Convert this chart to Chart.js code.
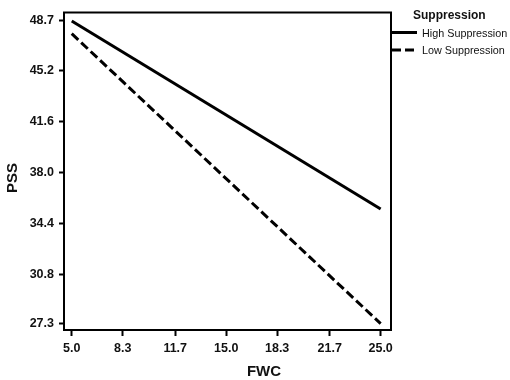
<!DOCTYPE html>
<html>
<head>
<meta charset="utf-8">
<script src="https://cdn.jsdelivr.net/npm/chart.js@4.4.1/dist/chart.umd.min.js"></script>
<style>
  html, body { margin: 0; padding: 0; background: #fff; }
</style>
</head>
<body>
<canvas id="myChart" width="510" height="380"></canvas>
<script>
// values
const fwc = [5.0, 25.0];
const highSuppression = [48.7, 35.4];
const lowSuppression = [47.8, 27.3];
const xTicks = [5.0, 8.3, 11.7, 15.0, 18.3, 21.7, 25.0];
const yTicks = [27.3, 30.8, 34.4, 38.0, 41.6, 45.2, 48.7];
const seriesNames = ['High Suppression', 'Low Suppression'];
const legendTitle = 'Suppression';
const xTitle = 'FWC';
const yTitle = 'PSS';

const FONT = '"Liberation Sans", Arial, sans-serif';

// frame round the plot, axis titles and the legend on the right
const framePlugin = {
  id: 'frameAndLegend',
  afterDraw(chart) {
    const ctx = chart.ctx;
    const a = chart.chartArea;
    ctx.save();
    ctx.strokeStyle = '#000';
    ctx.lineWidth = 2;
    ctx.strokeRect(a.left, a.top, a.right - a.left, a.bottom - a.top);

    ctx.fillStyle = '#111';
    ctx.font = 'bold 15px ' + FONT;
    ctx.textAlign = 'center';
    ctx.textBaseline = 'alphabetic';
    ctx.fillText(xTitle, 264, 376);

    ctx.save();
    ctx.translate(17, 178);
    ctx.rotate(-Math.PI / 2);
    ctx.fillText(yTitle, 0, 0);
    ctx.restore();

    // legend
    ctx.textAlign = 'left';
    ctx.font = 'bold 12px ' + FONT;
    ctx.fillText(legendTitle, 413, 18.5);

    ctx.font = '10.8px ' + FONT;
    const rows = [32.5, 50];
    chart.data.datasets.forEach((ds, i) => {
      ctx.beginPath();
      ctx.setLineDash(ds.borderDash || []);
      ctx.lineWidth = ds.borderWidth;
      ctx.strokeStyle = ds.borderColor;
      ctx.moveTo(392, rows[i]);
      ctx.lineTo(417, rows[i]);
      ctx.stroke();
      ctx.setLineDash([]);
      ctx.fillText(ds.label, 422, rows[i] + 4);
    });
    ctx.restore();
  }
};

const ctx = document.getElementById('myChart').getContext('2d');

const myChart = new Chart(ctx, {
  type: 'line',
  data: {
    datasets: [
      {
        label: seriesNames[0],
        data: fwc.map((x, i) => ({ x: x, y: highSuppression[i] })),
        borderColor: '#000',
        borderWidth: 3,
        pointRadius: 0,
        fill: false
      },
      {
        label: seriesNames[1],
        data: fwc.map((x, i) => ({ x: x, y: lowSuppression[i] })),
        borderColor: '#000',
        borderWidth: 3,
        borderDash: [9, 4],
        pointRadius: 0,
        fill: false
      }
    ]
  },
  options: {
    responsive: false,
    devicePixelRatio: 1,
    animation: false,
    layout: { padding: { top: 5, right: 119, left: 0, bottom: 0 } },
    plugins: {
      legend: { display: false },
      tooltip: { enabled: false }
    },
    scales: {
      x: {
        type: 'linear',
        min: 4.5,
        max: 25.67,
        afterFit: (scale) => { scale.height = 50; },
        afterBuildTicks: (scale) => { scale.ticks = xTicks.map(v => ({ value: v })); },
        grid: { drawOnChartArea: false, drawTicks: true, tickLength: 6, tickWidth: 2, tickColor: '#000' },
        border: { display: false },
        ticks: {
          padding: 5,
          color: '#111',
          font: { family: FONT, size: 12.5, weight: 'bold' },
          callback: (v) => Number(v).toFixed(1)
        }
      },
      y: {
        min: 26.85,
        max: 49.3,
        afterFit: (scale) => { scale.width = 64; },
        afterBuildTicks: (scale) => { scale.ticks = yTicks.map(v => ({ value: v })); },
        grid: { drawOnChartArea: false, drawTicks: true, tickLength: 5, tickWidth: 2, tickColor: '#000' },
        border: { display: false },
        ticks: {
          padding: 5,
          color: '#111',
          font: { family: FONT, size: 12.5, weight: 'bold' },
          callback: (v) => Number(v).toFixed(1)
        }
      }
    }
  },
  plugins: [framePlugin]
});
</script>
</body>
</html>
